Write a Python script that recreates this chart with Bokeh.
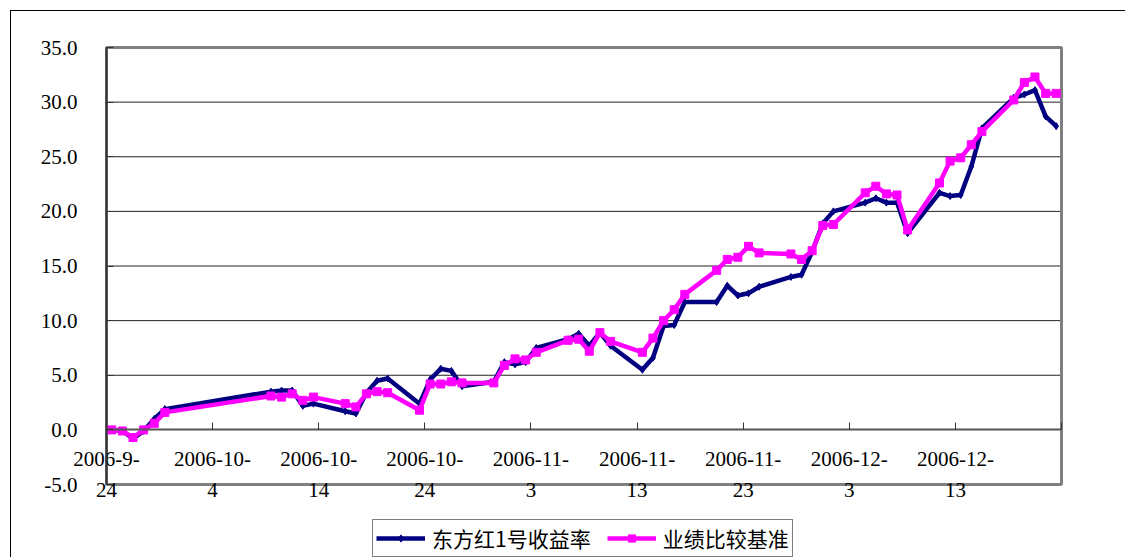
import pandas as pd
from bokeh.plotting import figure
from bokeh.models import (ColumnDataSource, Legend, LegendItem, FixedTicker,
                          NumeralTickFormatter, Range1d, LinearAxis)
from bokeh.embed import file_html
from bokeh.resources import INLINE

dates = ["2006-09-24", "2006-09-25", "2006-09-26", "2006-09-27", "2006-09-28", "2006-09-29",
         "2006-10-09", "2006-10-10", "2006-10-11", "2006-10-12", "2006-10-13",
         "2006-10-16", "2006-10-17", "2006-10-18", "2006-10-19", "2006-10-20",
         "2006-10-23", "2006-10-24", "2006-10-25", "2006-10-26", "2006-10-27",
         "2006-10-30", "2006-10-31", "2006-11-01", "2006-11-02", "2006-11-03",
         "2006-11-06", "2006-11-07", "2006-11-08", "2006-11-09", "2006-11-10",
         "2006-11-13", "2006-11-14", "2006-11-15", "2006-11-16", "2006-11-17",
         "2006-11-20", "2006-11-21", "2006-11-22", "2006-11-23", "2006-11-24",
         "2006-11-27", "2006-11-28", "2006-11-29", "2006-11-30", "2006-12-01",
         "2006-12-04", "2006-12-05", "2006-12-06", "2006-12-07", "2006-12-08",
         "2006-12-11", "2006-12-12", "2006-12-13", "2006-12-14", "2006-12-15",
         "2006-12-18", "2006-12-19", "2006-12-20", "2006-12-21", "2006-12-22"]

fund = [0.0, -0.1, -0.8, -0.1, 1.0, 1.9,
        3.5, 3.6, 3.6, 2.2, 2.4,
        1.7, 1.5, 3.4, 4.5, 4.7,
        2.4, 4.6, 5.6, 5.4, 4.0,
        4.4, 6.2, 6.0, 6.2, 7.5,
        8.3, 8.8, 7.7, 8.9, 7.7,
        5.5, 6.6, 9.5, 9.6, 11.7,
        11.7, 13.2, 12.3, 12.5, 13.1,
        14.0, 14.2, 16.3, 18.9, 20.0,
        20.8, 21.2, 20.8, 20.8, 18.0,
        21.7, 21.4, 21.5, 24.1, 27.6,
        30.4, 30.7, 31.1, 28.7, 27.8]

bench = [0.0, -0.1, -0.7, 0.0, 0.6, 1.6,
         3.1, 3.0, 3.3, 2.7, 3.0,
         2.4, 2.1, 3.3, 3.5, 3.4,
         1.8, 4.2, 4.2, 4.4, 4.3,
         4.3, 5.9, 6.5, 6.4, 7.1,
         8.2, 8.3, 7.2, 8.9, 8.1,
         7.1, 8.4, 10.0, 11.0, 12.4,
         14.6, 15.6, 15.8, 16.8, 16.2,
         16.1, 15.6, 16.4, 18.7, 18.8,
         21.7, 22.3, 21.6, 21.5, 18.3,
         22.6, 24.6, 24.9, 26.1, 27.3,
         30.2, 31.8, 32.3, 30.8, 30.8]

x_tick_days = [0, 10, 20, 30, 40, 50, 60, 70, 80, 90]
x_tick_labels = ["2006-9-\n24", "2006-10-\n4", "2006-10-\n14", "2006-10-\n24",
                 "2006-11-\n3", "2006-11-\n13", "2006-11-\n23", "2006-12-\n3",
                 "2006-12-\n13", ""]
y_ticks = [-5, 0, 5, 10, 15, 20, 25, 30, 35]
grid_ticks = [5, 10, 15, 20, 25, 30]
x_span = (0, 90)
y_span = (-5, 35)

start = pd.Timestamp("2006-09-24")
day = [(pd.Timestamp(d) - start).days + 0.5 for d in dates]
src = ColumnDataSource(data=dict(x=day, fund=fund, bench=bench))

W, H = 1115, 547
# plot box spans canvas px 95..1050 (x) and 36..473 (y)
sx = (1050 - 95) / (x_span[1] - x_span[0])
sy = (473 - 36) / (y_span[1] - y_span[0])
x_range = Range1d(x_span[0] - 95 / sx, x_span[1] + (W - 1050) / sx)
y_range = Range1d(y_span[0] - (H - 473) / sy, y_span[1] + 36 / sy)

p = figure(width=W, height=H, output_backend="svg", toolbar_location=None,
           x_range=x_range, y_range=y_range,
           x_axis_type=None, y_axis_type=None,
           min_border=0, min_border_left=0, min_border_right=0,
           min_border_top=0, min_border_bottom=0,
           background_fill_color="white", border_fill_color="white")
p.styles = {"margin-left": "10px", "margin-top": "10px",
            "border-left": "1px solid black", "border-top": "1px solid black"}
p.outline_line_color = None
p.xgrid.visible = False
p.ygrid.visible = False

# horizontal gridlines limited to the plot box
p.segment(x0=[x_span[0]] * len(grid_ticks), x1=[x_span[1]] * len(grid_ticks),
          y0=grid_ticks, y1=grid_ticks, line_color="#222222", line_width=1)
# plot box border
p.quad(left=[x_span[0]], right=[x_span[1]], bottom=[y_span[0]], top=[y_span[1]],
       fill_color=None, line_color="#808080", line_width=3)

font = "Liberation Serif"
yaxis = LinearAxis(ticker=FixedTicker(ticks=y_ticks),
                   formatter=NumeralTickFormatter(format="0.0"),
                   fixed_location=x_span[0], bounds=y_span,
                   axis_line_color="#333333", axis_line_width=2,
                   major_tick_in=7, major_tick_out=0, major_tick_line_color="#333333",
                   major_label_standoff=29,
                   major_label_text_font=font, major_label_text_font_size="21px",
                   major_label_text_color="black")
p.add_layout(yaxis, "left")

xaxis = LinearAxis(ticker=FixedTicker(ticks=x_tick_days),
                   major_label_overrides={t: l for t, l in zip(x_tick_days, x_tick_labels)},
                   fixed_location=0, bounds=x_span,
                   axis_line_color="#555555", axis_line_width=2,
                   major_tick_in=7, major_tick_out=0, major_tick_line_color="#333333",
                   major_label_standoff=17,
                   major_label_text_font=font, major_label_text_font_size="21px",
                   major_label_text_color="black",
                   major_label_text_line_height=1.3)
p.add_layout(xaxis, "below")

bl = p.line("x", "fund", source=src, line_color="#000080", line_width=4.5)
bm = p.scatter("x", "fund", source=src, marker="diamond", size=7,
               fill_color="#000080", line_color="#000080")
pl = p.line("x", "bench", source=src, line_color="#FF00FF", line_width=4.5)
pm = p.scatter("x", "bench", source=src, marker="square", size=8,
               fill_color="#FF00FF", line_color="#FF00FF")

legend = Legend(items=[LegendItem(label="东方红1号收益率", renderers=[bl, bm]),
                       LegendItem(label="业绩比较基准", renderers=[pl, pm])],
                location=(361, 1), orientation="horizontal",
                border_line_color="black", border_line_width=1,
                label_text_font="Noto Sans CJK SC", label_text_font_size="21px",
                label_text_color="black",
                glyph_width=49, glyph_height=18, label_standoff=7, spacing=16,
                padding=3, margin=0, background_fill_alpha=1)
p.add_layout(legend)

open("out.html", "w").write(file_html(p, INLINE))
